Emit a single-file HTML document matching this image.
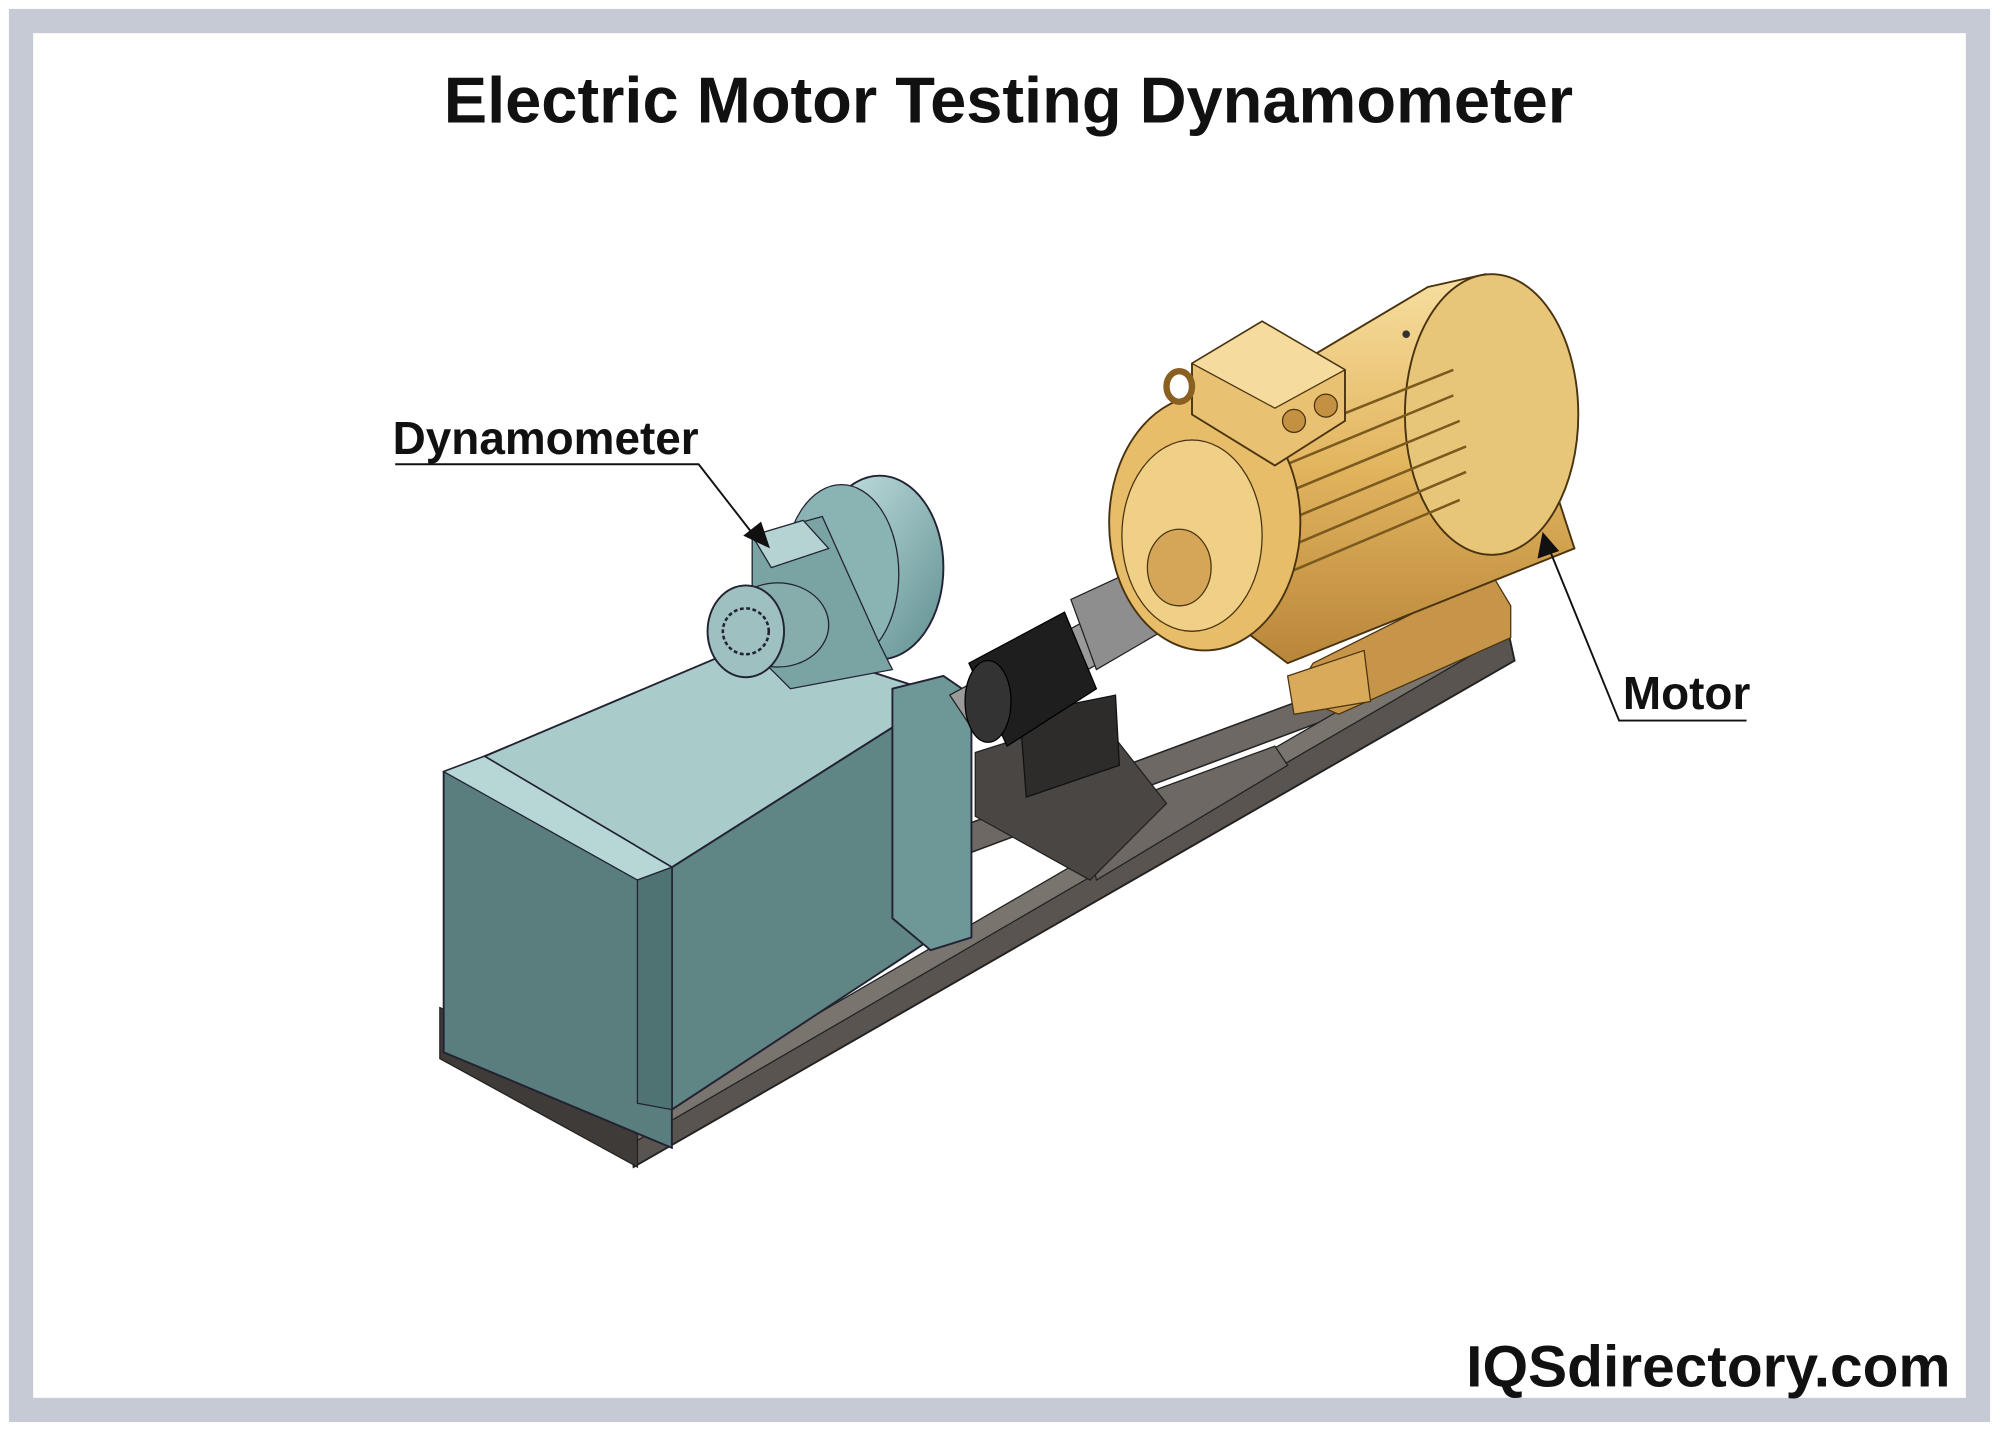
<!DOCTYPE html>
<html><head><meta charset="utf-8"><style>
html,body{margin:0;padding:0;background:#fff}
svg{display:block}
text{font-family:"Liberation Sans",Arial,sans-serif;font-weight:bold;fill:#111}
</style></head><body>
<svg width="1999" height="1431" viewBox="0 0 1568 1122" preserveAspectRatio="none" xmlns="http://www.w3.org/2000/svg">
<defs>
<linearGradient id="gold" x1="0" y1="0" x2="0" y2="1">
<stop offset="0" stop-color="#f7dfa0"/><stop offset="0.5" stop-color="#e2b45e"/><stop offset="1" stop-color="#b8863a"/>
</linearGradient>
<linearGradient id="teal" x1="0" y1="0" x2="1" y2="1">
<stop offset="0" stop-color="#c8e4e4"/><stop offset="1" stop-color="#5f8f90"/>
</linearGradient>
</defs>
<rect x="0" y="0" width="1568" height="1122" fill="#fff"/>
<rect x="16.5" y="16.5" width="1535" height="1089" fill="none" stroke="#c6cad5" stroke-width="19"/>
<text x="791" y="96" font-size="51" text-anchor="middle">Electric Motor Testing Dynamometer</text>

<!-- base rails -->
<polygon points="600,705 1180,490 1186,510 610,725" fill="#6d6863" stroke="#222" stroke-width="1.2"/>
<polygon points="495,895 1183,495 1188,518 497,915" fill="#5a5450" stroke="#222" stroke-width="1.5"/>
<polygon points="495,880 1183,480 1183,497 495,897" fill="#7a746e" stroke="#222" stroke-width="1"/>
<polygon points="850,640 1000,585 1010,600 860,690" fill="#6d6863" stroke="#222"/>
<polygon points="345,790 500,860 500,915 345,830" fill="#3f3b38" stroke="#222"/>
<!-- center stand -->
<polygon points="765,590 860,560 915,630 855,690 765,640" fill="#4a4644" stroke="#222"/>
<polygon points="800,560 875,545 878,600 805,625" fill="#2e2c2b" stroke="#111"/>

<!-- teal dyno box -->
<polygon points="380,593 600,500 740,545 527,680" fill="#a9cccb" stroke="#223" stroke-width="1.5"/>
<polygon points="527,680 740,545 740,730 527,870" fill="#5f8585" stroke="#223" stroke-width="1.5"/>
<polygon points="348,605 380,593 527,680 527,900 348,825" fill="#5a7e7e" stroke="#223" stroke-width="1.5"/>
<polygon points="348,605 380,593 527,680 500,690" fill="#b7d6d6" stroke="#223"/>
<polygon points="700,540 740,530 762,545 762,735 730,745 700,720" fill="#6e9797" stroke="#223" stroke-width="1.5"/>
<polygon points="500,690 527,680 527,870 500,865" fill="#4f7373" stroke="#223"/>
<!-- blower -->
<ellipse cx="690" cy="445" rx="50" ry="72" fill="url(#teal)" stroke="#223" stroke-width="1.5"/>
<ellipse cx="660" cy="450" rx="45" ry="70" fill="#8ab3b3" stroke="#223"/>
<polygon points="590,420 645,405 690,505 700,525 620,540 590,510" fill="#7aa3a3" stroke="#223"/>
<polygon points="590,420 630,408 650,430 605,445" fill="#b5d3d3" stroke="#223"/>
<ellipse cx="610" cy="490" rx="40" ry="33" fill="#86acac" stroke="#223"/>
<ellipse cx="585" cy="495" rx="30" ry="36" fill="#9ec0c0" stroke="#223" stroke-width="1.5"/>
<circle cx="585" cy="495" r="18" fill="none" stroke="#223" stroke-width="2" stroke-dasharray="3,2"/>

<!-- shaft/coupling -->
<polygon points="745,545 900,460 915,490 765,575" fill="#9a9a9a" stroke="#222"/>
<polygon points="760,520 835,480 860,540 790,585" fill="#1e1e1e" stroke="#000"/>
<ellipse cx="775" cy="550" rx="18" ry="32" fill="#333" stroke="#000"/>
<polygon points="840,470 905,440 920,490 860,525" fill="#8e8e8e" stroke="#222"/>
<polygon points="900,445 945,430 950,470 910,485" fill="#e1b763" stroke="#5a4010"/>

<!-- motor -->
<polygon points="1030,520 1170,450 1185,475 1185,500 1050,560 1015,545" fill="#c7954a" stroke="#4a3410"/>
<polygon points="1010,530 1070,510 1075,550 1015,560" fill="#d8aa5a" stroke="#4a3410"/>
<polygon points="910,350 1120,225 1165,215 1235,430 1010,520 930,460" fill="url(#gold)" stroke="#4a3410" stroke-width="1.5"/>
<ellipse cx="1170" cy="325" rx="68" ry="110" fill="#e8c679" stroke="#4a3410" stroke-width="1.5"/>
<g stroke="#7a5a1e" stroke-width="2">
<line x1="990" y1="350" x2="1140" y2="290"/><line x1="995" y1="370" x2="1140" y2="310"/>
<line x1="1000" y1="390" x2="1145" y2="330"/><line x1="1005" y1="410" x2="1150" y2="350"/>
<line x1="1008" y1="430" x2="1150" y2="370"/><line x1="1008" y1="450" x2="1145" y2="392"/>
</g>
<ellipse cx="945" cy="410" rx="75" ry="100" fill="#e7bd6a" stroke="#4a3410" stroke-width="1.5"/>
<ellipse cx="935" cy="420" rx="55" ry="75" fill="#f0cf86" stroke="#4a3410"/>
<ellipse cx="925" cy="445" rx="25" ry="30" fill="#d5a658" stroke="#4a3410"/>
<polygon points="935,285 990,252 1055,290 1055,330 1000,365 935,325" fill="#e9c173" stroke="#4a3410" stroke-width="1.5"/>
<polygon points="935,285 990,252 1055,290 1000,320" fill="#f5dc9e" stroke="#4a3410"/>
<circle cx="1015" cy="330" r="9" fill="#c49042" stroke="#4a3410"/><circle cx="1040" cy="318" r="9" fill="#c49042" stroke="#4a3410"/>
<ellipse cx="925" cy="303" rx="10" ry="12" fill="none" stroke="#8a6020" stroke-width="5"/>
<circle cx="1103" cy="262" r="3" fill="#333"/>

<!-- labels -->
<text x="308" y="356" font-size="36">Dynamometer</text>
<polyline points="310,364 548,364 590,418" fill="none" stroke="#111" stroke-width="1.5"/>
<polygon points="604,430 583,420 597,409" fill="#111"/>
<text x="1273" y="556" font-size="36">Motor</text>
<polyline points="1370,565 1270,565 1215,430" fill="none" stroke="#111" stroke-width="1.5"/>
<polygon points="1210,417 1206,438 1223,432" fill="#111"/>
<text x="1530" y="1087" font-size="46" text-anchor="end">IQSdirectory.com</text>
</svg>
</body></html>
